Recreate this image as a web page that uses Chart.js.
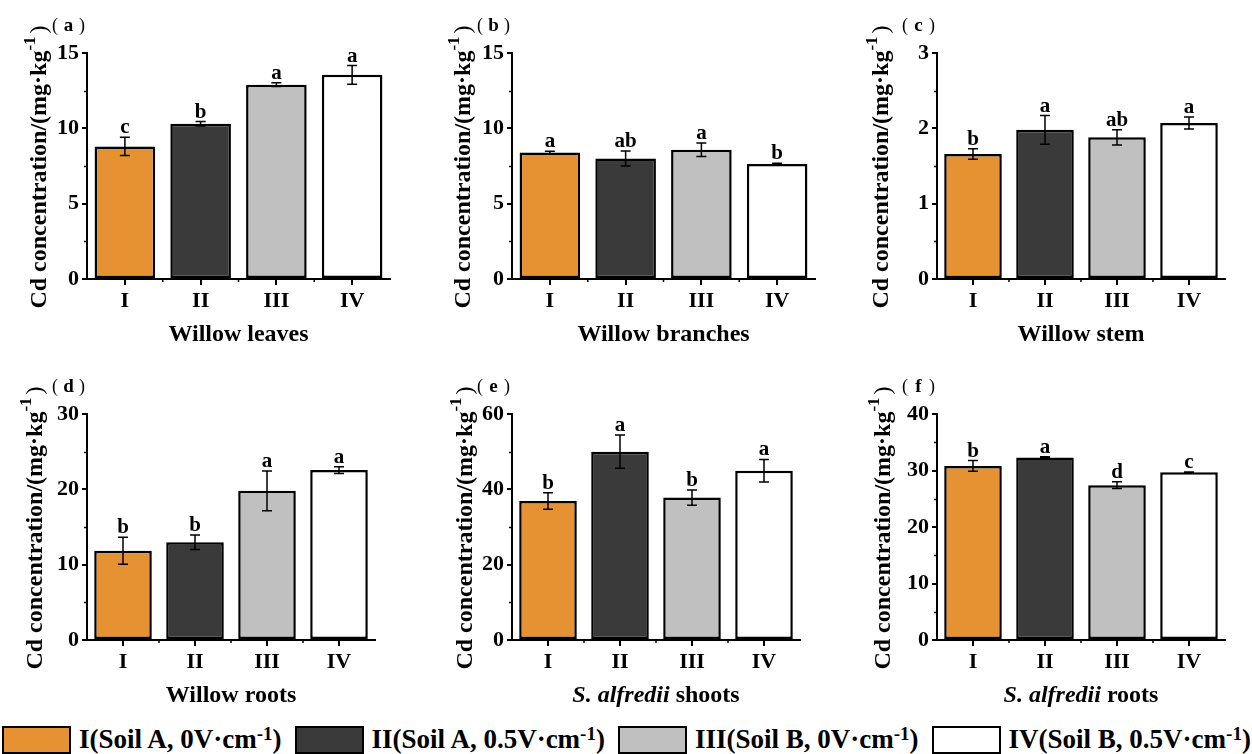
<!DOCTYPE html>
<html>
<head>
<meta charset="utf-8">
<script src="https://cdn.jsdelivr.net/npm/chart.js@4.4.1/dist/chart.umd.min.js"></script>
<style>
body{margin:0;background:#fff;width:1252px;height:754px;position:relative;overflow:hidden;font-family:"Liberation Serif",serif;}
canvas{position:absolute;}
#legend{position:absolute;left:2px;top:724px;display:flex;align-items:center;white-space:nowrap;
  font:bold 27px "Liberation Serif",serif;color:#000;}
#legend .box{width:65px;height:24px;border:2.5px solid #000;margin-right:8px;}
#legend .txt{margin-right:13px;}
#legend sup{font-size:19px;vertical-align:0.42em;line-height:0;}
</style>
</head>
<body>

<canvas id="pa"></canvas>
<canvas id="pb"></canvas>
<canvas id="pc"></canvas>
<canvas id="pd"></canvas>
<canvas id="pe"></canvas>
<canvas id="pf"></canvas>
<div id="legend"></div>

<script>
// treatments
const categories = ["I", "II", "III", "IV"];
const legendLabels = ["I(Soil A, 0V·cm", "II(Soil A, 0.5V·cm", "III(Soil B, 0V·cm", "IV(Soil B, 0.5V·cm"];
const barColors = ["#E69233", "#3A3A3A", "#C0C0C0", "#FFFFFF"];

// (a) willow leaves
const leavesMean = [8.8, 10.3, 12.9, 13.55];
const leavesErr = [0.6, 0.15, 0.12, 0.62];
const leavesSig = ["c", "b", "a", "a"];

// (b) willow branches
const branchesMean = [8.4, 8.0, 8.58, 7.63];
const branchesErr = [0.08, 0.5, 0.45, 0.05];
const branchesSig = ["a", "ab", "a", "b"];

// (c) willow stem
const stemMean = [1.66, 1.98, 1.88, 2.07];
const stemErr = [0.07, 0.19, 0.1, 0.08];
const stemSig = ["b", "a", "ab", "a"];

// (d) willow roots
const rootsMean = [11.85, 12.97, 19.8, 22.55];
const rootsErr = [1.8, 0.97, 2.65, 0.45];
const rootsSig = ["b", "b", "a", "a"];

// (e) S. alfredii shoots
const shootsMean = [36.9, 50.0, 37.8, 44.95];
const shootsErr = [2.2, 4.4, 2.0, 3.0];
const shootsSig = ["b", "a", "b", "a"];

// (f) S. alfredii roots
const sRootsMean = [30.8, 32.3, 27.4, 29.7];
const sRootsErr = [0.95, 0.15, 0.6, 0.05];
const sRootsSig = ["b", "a", "d", "c"];

const yMaxes = [15, 15, 3, 30, 60, 40];
const ySteps = [5, 5, 1, 10, 20, 10];
const xTitles = ["Willow leaves", "Willow branches", "Willow stem", "Willow roots", "S. alfredii shoots", "S. alfredii roots"];
const panelTags = ["a", "b", "c", "d", "e", "f"];
const yTitleMain = "Cd concentration/(mg·kg";
const italicPart = "S. alfredii";

// where each plot area sits on the page
const layout = [
    {id: "pa", axisX: 87,  top: 53,  bottom: 279, right: 390,  yt: 49},
    {id: "pb", axisX: 512, top: 53,  bottom: 279, right: 815,  yt: 50},
    {id: "pc", axisX: 937, top: 53,  bottom: 279, right: 1225, yt: 57},
    {id: "pd", axisX: 87,  top: 414, bottom: 640, right: 375,  yt: 53},
    {id: "pe", axisX: 512, top: 414, bottom: 640, right: 800,  yt: 48},
    {id: "pf", axisX: 937, top: 414, bottom: 640, right: 1225, yt: 55}
];

const PAD_L = 45, Y_W = 40, PAD_T = 40, PAD_R = 8, X_H = 75;
const serif = '"Liberation Serif", "Times New Roman", serif';

function drawYTitle(ctx, cx, cy){
    ctx.save();
    ctx.translate(cx, cy);
    ctx.rotate(-Math.PI / 2);
    ctx.fillStyle = "#000";
    ctx.textBaseline = "alphabetic";
    ctx.textAlign = "left";
    ctx.font = "bold 24px " + serif;
    let w1 = ctx.measureText(yTitleMain).width;
    ctx.font = "bold 17px " + serif;
    let w2 = ctx.measureText("-1").width;
    ctx.font = "24px " + serif;
    let w3 = ctx.measureText(")").width;
    let x = -(w1 + w2 + w3 + 3) / 2;
    ctx.font = "bold 24px " + serif;
    ctx.fillText(yTitleMain, x, 8);
    x += w1;
    ctx.font = "bold 17px " + serif;
    ctx.fillText("-1", x, -3);
    x += w2 + 3;
    ctx.font = "24px " + serif;
    ctx.fillText(")", x, 8);
    ctx.restore();
}

function drawXTitle(ctx, cx, y, title){
    ctx.save();
    ctx.fillStyle = "#000";
    ctx.textBaseline = "alphabetic";
    ctx.textAlign = "left";
    let parts = [];
    if(title.startsWith(italicPart)){
        parts.push({t: italicPart, f: "italic bold 24px " + serif});
        parts.push({t: title.slice(italicPart.length), f: "bold 24px " + serif});
    } else {
        parts.push({t: title, f: "bold 24px " + serif});
    }
    let total = 0;
    parts.forEach(p => { ctx.font = p.f; p.w = ctx.measureText(p.t).width; total += p.w; });
    let x = cx - total / 2;
    parts.forEach(p => { ctx.font = p.f; ctx.fillText(p.t, x, y); x += p.w; });
    ctx.restore();
}

function drawTag(ctx, left, y, tag){
    ctx.save();
    ctx.fillStyle = "#000";
    ctx.textAlign = "center";
    ctx.textBaseline = "middle";
    ctx.font = "18px " + serif;
    ctx.fillText("(", left - 32, y);
    ctx.fillText(")", left - 5, y);
    ctx.font = "bold 19px " + serif;
    ctx.fillText(tag, left - 18.5, y);
    ctx.restore();
}

const decorations = {
    id: "decorations",
    afterDatasetsDraw(chart, args, opts){
        const ctx = chart.ctx;
        const area = chart.chartArea;
        const xs = chart.scales.x;
        const ys = chart.scales.y;
        const meta = chart.getDatasetMeta(0);

        ctx.save();
        ctx.strokeStyle = "#000";
        ctx.fillStyle = "#000";

        // minor ticks
        ctx.lineWidth = 1.5;
        for(let v = opts.step / 2; v < opts.max; v += opts.step){
            let py = Math.round(ys.getPixelForValue(v)) + 0.5;
            ctx.beginPath();
            ctx.moveTo(area.left - 3, py);
            ctx.lineTo(area.left, py);
            ctx.stroke();
        }
        for(let i = 1; i < categories.length; i++){
            let px = (xs.getPixelForValue(i - 1) + xs.getPixelForValue(i)) / 2;
            ctx.beginPath();
            ctx.moveTo(px, area.bottom);
            ctx.lineTo(px, area.bottom + 3);
            ctx.stroke();
        }

        // error bars and letters
        meta.data.forEach((bar, i) => {
            let m = opts.mean[i], e = opts.err[i];
            let yTop = ys.getPixelForValue(m + e);
            let yBot = ys.getPixelForValue(m - e);
            ctx.lineWidth = 1.5;
            ctx.beginPath();
            ctx.moveTo(bar.x, yTop); ctx.lineTo(bar.x, yBot);
            ctx.moveTo(bar.x - 5, yTop); ctx.lineTo(bar.x + 5, yTop);
            ctx.moveTo(bar.x - 5, yBot); ctx.lineTo(bar.x + 5, yBot);
            ctx.stroke();

            ctx.font = "bold 21px " + serif;
            ctx.textAlign = "center";
            ctx.textBaseline = "alphabetic";
            ctx.fillText(opts.sig[i], bar.x, Math.min(yTop, bar.y) - 4);
        });
        ctx.restore();

        drawYTitle(ctx, area.left - opts.yt, (area.top + area.bottom) / 2 + 1);
        drawXTitle(ctx, (area.left + area.right) / 2, area.bottom + 62, opts.xTitle);
        drawTag(ctx, area.left, area.top - 27, opts.tag);
    }
};

const means = [leavesMean, branchesMean, stemMean, rootsMean, shootsMean, sRootsMean];
const errs = [leavesErr, branchesErr, stemErr, rootsErr, shootsErr, sRootsErr];
const sigs = [leavesSig, branchesSig, stemSig, rootsSig, shootsSig, sRootsSig];

layout.forEach((g, k) => {

    const canvas = document.getElementById(g.id);
    const w = (g.right - g.axisX) + PAD_L + Y_W + PAD_R;
    const h = (g.bottom - g.top) + PAD_T + X_H;
    canvas.width = w;
    canvas.height = h;
    canvas.style.width = w + "px";
    canvas.style.height = h + "px";
    canvas.style.left = (g.axisX - PAD_L - Y_W) + "px";
    canvas.style.top = (g.top - PAD_T) + "px";

    const tickFont = {family: serif, size: 22, weight: "bold"};

    new Chart(canvas, {
        type: "bar",
        data: {
            labels: categories,
            datasets: [{
                data: means[k],
                backgroundColor: barColors,
                borderColor: "#000",
                borderWidth: 2.5,
                borderSkipped: false,
                categoryPercentage: 0.8,
                barPercentage: 1.0
            }]
        },
        options: {
            responsive: false,
            animation: false,
            devicePixelRatio: 1,
            layout: {padding: {left: PAD_L, top: PAD_T, right: PAD_R, bottom: 0}},
            plugins: {
                legend: {display: false},
                tooltip: {enabled: false},
                decorations: {
                    mean: means[k], err: errs[k], sig: sigs[k],
                    max: yMaxes[k], step: ySteps[k],
                    xTitle: xTitles[k], tag: panelTags[k], yt: g.yt
                }
            },
            scales: {
                x: {
                    grid: {drawOnChartArea: false, offset: false, color: "#000", lineWidth: 2, tickLength: 6},
                    border: {color: "#000", width: 2},
                    ticks: {color: "#000", font: tickFont, padding: 3},
                    afterFit(s){ s.height = X_H; }
                },
                y: {
                    min: 0,
                    max: yMaxes[k],
                    grid: {drawOnChartArea: false, color: "#000", lineWidth: 2, tickLength: 5},
                    border: {color: "#000", width: 2},
                    ticks: {color: "#000", font: tickFont, padding: 3, stepSize: ySteps[k]},
                    afterFit(s){ s.width = Y_W; }
                }
            }
        },
        plugins: [decorations]
    });

});

// shared legend
const legend = document.getElementById("legend");
legendLabels.forEach((lab, i) => {
    const box = document.createElement("div");
    box.className = "box";
    box.style.background = barColors[i];
    const txt = document.createElement("span");
    txt.className = "txt";
    txt.innerHTML = lab + "<sup>-1</sup>)";
    legend.appendChild(box);
    legend.appendChild(txt);
});
</script>
</body>
</html>
